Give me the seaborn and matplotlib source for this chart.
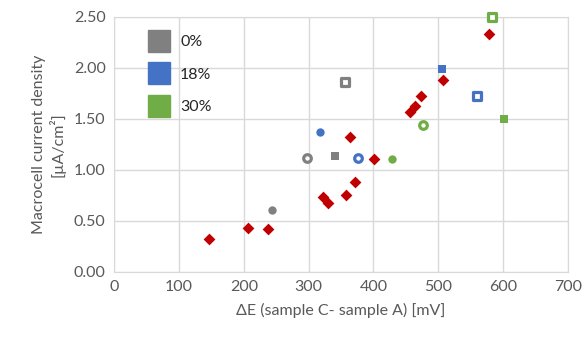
import pandas as pd
import matplotlib.pyplot as plt
import seaborn as sns
from matplotlib.lines import Line2D

# group data: (dE [mV], current density [uA/cm2], marker type)
gray_x = [340, 297, 356, 244]
gray_y = [1.14, 1.12, 1.86, 0.61]
gray_m = ["sq", "oc", "os", "ci"]

blue_x = [318, 376, 505, 560]
blue_y = [1.37, 1.12, 1.99, 1.72]
blue_m = ["ci", "oc", "sq", "os"]

green_x = [582, 477, 601, 428]
green_y = [2.50, 1.44, 1.50, 1.11]
green_m = ["os", "oc", "sq", "ci"]

red_x = [578, 507, 473, 464, 456, 364, 401, 372, 357, 322, 330, 237, 206, 147]
red_y = [2.33, 1.88, 1.72, 1.63, 1.57, 1.32, 1.11, 0.88, 0.75, 0.73, 0.68, 0.42, 0.43, 0.32]

colors = {"0%": "#808080", "18%": "#4472C4", "30%": "#70AD47"}

rows = []
for g, xs, ys, ms in [("0%", gray_x, gray_y, gray_m),
                      ("18%", blue_x, blue_y, blue_m),
                      ("30%", green_x, green_y, green_m)]:
    for x, y, m in zip(xs, ys, ms):
        rows.append({"x": x, "y": y, "group": g, "kind": m})
df = pd.DataFrame(rows)
red = pd.DataFrame({"x": red_x, "y": red_y})

sns.set_style("white")
plt.rcParams["font.family"] = ["Lato", "DejaVu Sans"]

fig = plt.figure(figsize=(5.85, 3.39), dpi=100)
ax = fig.add_axes([0.195, 0.198, 0.776, 0.752])

grid_c = "#D9D9D9"
ax.grid(True, color=grid_c, linewidth=1)
ax.set_axisbelow(True)
for s in ax.spines.values():
    s.set_color(grid_c)

# filled squares / circles, open squares / circles
styles = {"sq": ("s", 36, True), "ci": ("o", 36, True),
          "os": ("s", 30, False), "oc": ("o", 30, False)}
for g, c in colors.items():
    sub = df[df["group"] == g]
    for k, (mk, sz, filled) in styles.items():
        d = sub[sub["kind"] == k]
        if filled:
            sns.scatterplot(data=d, x="x", y="y", marker=mk, s=sz, color=c,
                            edgecolor=c, linewidth=0, ax=ax, zorder=3, clip_on=False)
        else:
            sns.scatterplot(data=d, x="x", y="y", marker=mk, s=sz, color="white",
                            edgecolor=c, linewidth=2.3, ax=ax, zorder=3, clip_on=False)

sns.scatterplot(data=red, x="x", y="y", marker="D", s=36, color="#C00000",
                edgecolor="#C00000", linewidth=0, ax=ax, zorder=3)

ax.set_xlim(0, 700)
ax.set_ylim(0, 2.5)
ax.set_xticks(range(0, 701, 100))
ax.set_yticks([0, 0.5, 1.0, 1.5, 2.0, 2.5])
ax.set_yticklabels([f"{v:.2f}" for v in ax.get_yticks()])
ax.tick_params(colors="#595959", labelsize=11.5, length=0, pad=6)
ax.set_xlabel("ΔE (sample C- sample A) [mV]", color="#595959", fontsize=11.5, labelpad=6)
ax.set_ylabel("Macrocell current density\n[µA/cm²]", color="#595959", fontsize=11.5, labelpad=6)

handles = [Line2D([], [], marker="s", linestyle="none", markersize=16,
                  markerfacecolor=c, markeredgecolor=c) for c in colors.values()]
leg = ax.legend(handles, list(colors.keys()), loc="upper left", bbox_to_anchor=(0.04, 0.985),
                frameon=False, fontsize=11.5, labelspacing=1.15, handletextpad=0.6,
                handlelength=1.5)
for t in leg.get_texts():
    t.set_color("#262626")

fig.savefig("out.png", dpi=100)
